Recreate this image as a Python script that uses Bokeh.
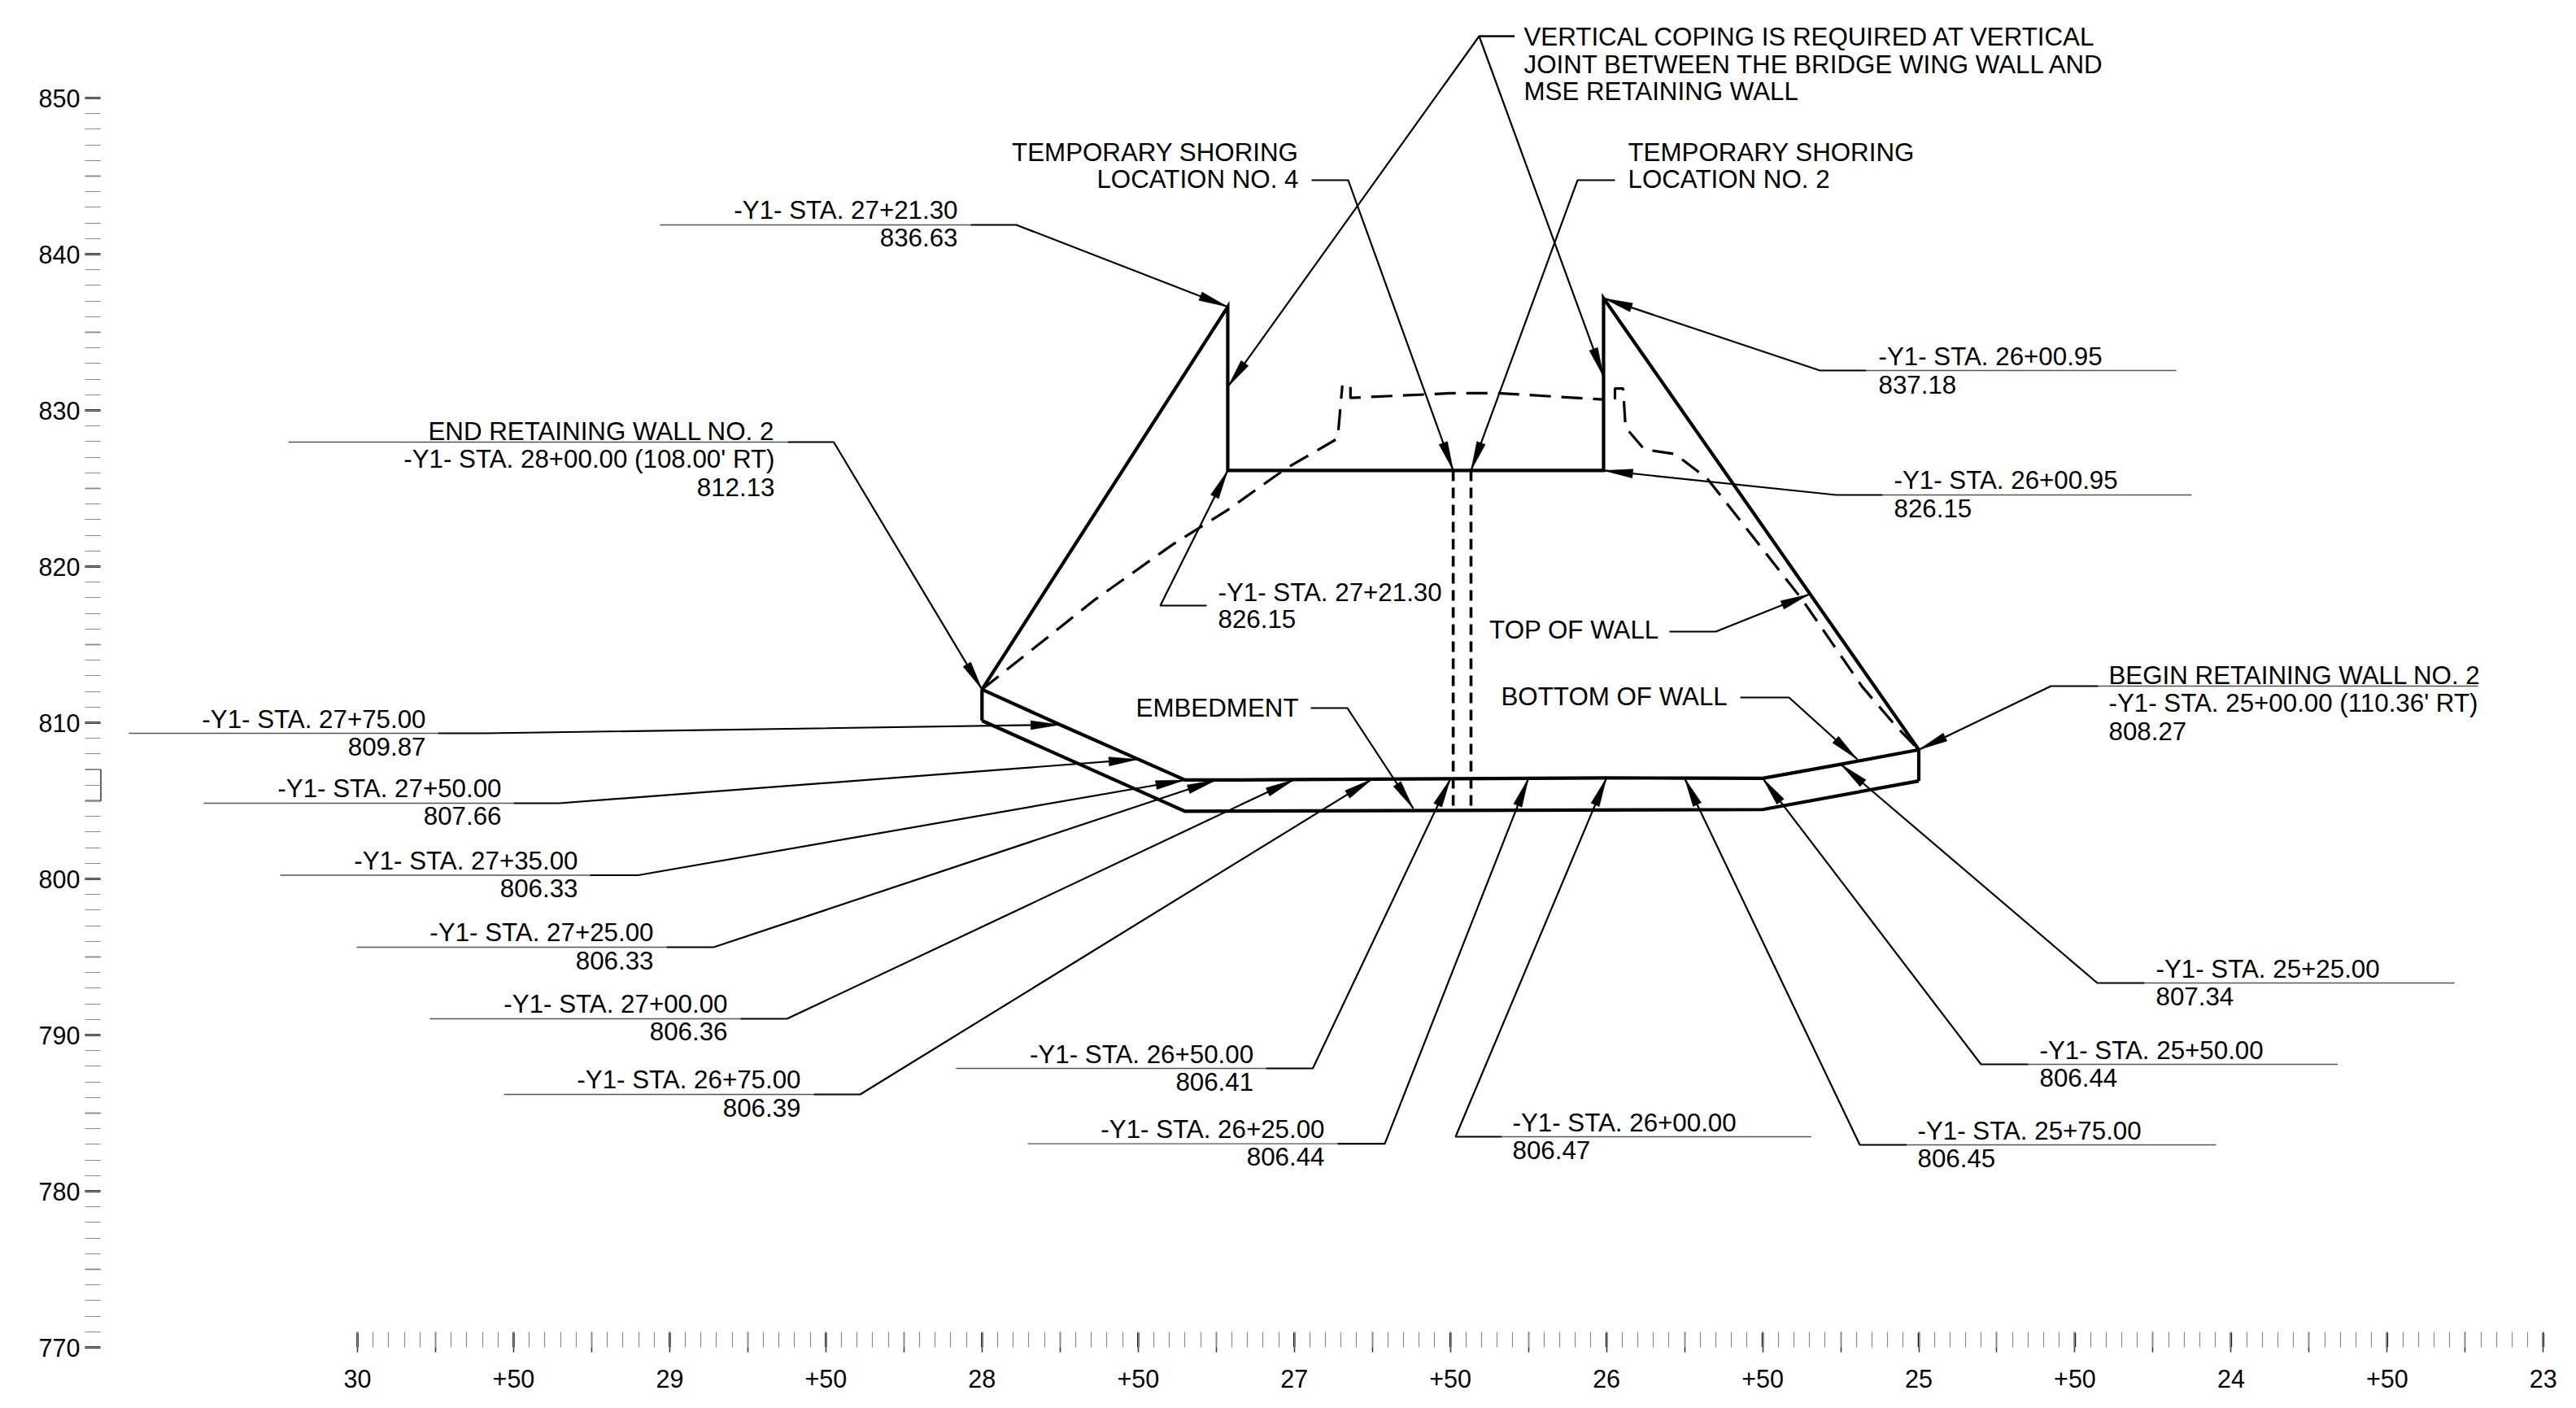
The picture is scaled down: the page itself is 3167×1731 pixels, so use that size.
from bokeh.plotting import figure
from bokeh.models import Range1d, FixedTicker
from bokeh.core.properties import value
from bokeh.embed import file_html
from bokeh.resources import INLINE
import math

# ---------- chart data (station in feet, elevation in feet) ----------
top_sta = [2500, 2525, 2550, 2575, 2600, 2625, 2650, 2675, 2700, 2725, 2735, 2750, 2775, 2800]
top_elev = [808.27, 807.34, 806.44, 806.45, 806.47, 806.44, 806.41, 806.39, 806.36, 806.33, 806.33, 807.66, 809.87, 812.13]
bottom_sta = [2500, 2550, 2735, 2800]
bottom_elev = [806.27, 804.44, 804.33, 810.13]
wall_top_sta = [2800, 2721.30, 2721.30, 2600.95, 2600.95, 2500]
wall_top_elev = [812.13, 836.63, 826.15, 826.15, 837.18, 808.27]
shoring_sta = [2649.1, 2643.4]
shoring_top = 826.15
shoring_bottom = 804.5
ground_a_sta = [2800, 2763.7, 2739, 2721.5, 2702.5, 2686.1, 2684.6]
ground_a_elev = [812.13, 817.9, 821.4, 823.6, 826.3, 828.2, 831.6]
ground_b_sta = [2682, 2682, 2649.4, 2634.8, 2601.2]
ground_b_elev = [831.5, 830.8, 831.1, 831.1, 830.7]
ground_c_sta = [2597.3, 2597.3, 2594.7, 2593.9, 2587.9, 2578, 2567.6, 2537.4, 2518.1, 2507.4, 2500]
ground_c_elev = [830.7, 831.4, 831.4, 828.9, 827.5, 827.2, 825.6, 817.9, 812.3, 809.8, 808.27]

y_major = list(range(770, 851, 10))
y_mid = list(range(775, 850, 10))
y_minor = list(range(770, 851, 1))
x_major = list(range(2300, 3001, 25))
x_label_ticks = list(range(2300, 3001, 50))
x_minor = list(range(2300, 3001, 5))
x_labels = {2300: "23", 2350: "+50", 2400: "24", 2450: "+50", 2500: "25", 2550: "+50", 2600: "26",
            2650: "+50", 2700: "27", 2750: "+50", 2800: "28", 2850: "+50", 2900: "29", 2950: "+50", 3000: "30"}

# ---------- scale of the page ----------
PX_FT, PX_EL = 3.839, 19.2
X30, Y850 = 439.0, 120.0
FIG_W, FIG_H = 3160, 1724
LEFT, BOTTOM = 104, 1656
TEXT_DY = -12


def sta(X):
    return 3000 - (X - X30) / PX_FT


def el(Y):
    return 850 - (Y - Y850) / PX_EL


def to_px(s, e):
    return X30 + (3000 - s) * PX_FT, Y850 + (850 - e) * PX_EL


# ---------- callouts: text lines, align, text x, baselines, shelf, leader px path, arrow tips ----------
Y1 = "-Y1- STA. "
callouts = [
    ([Y1 + "27+21.30", "836.63"], "right", 1177, [270, 303], (811, 1193, 276), [(1193, 276), (1249, 276)], [(2721.30, 836.63)]),
    (["END RETAINING WALL NO. 2", Y1 + "28+00.00 (108.00' RT)", "812.13"], "right", 952, [542, 576, 610], (354, 968, 543), [(968, 543), (1024.5, 543)], [(2800, 812.13)]),
    ([Y1 + "27+75.00", "809.87"], "right", 523, [896, 929], (158, 538, 901), [(538, 901), (596, 901)], [(2775, 809.87)]),
    ([Y1 + "27+50.00", "807.66"], "right", 616, [981, 1014], (250, 631, 987), [(631, 987), (687, 987)], [(2750, 807.66)]),
    ([Y1 + "27+35.00", "806.33"], "right", 710, [1070, 1103], (344, 725, 1075.5), [(725, 1075.5), (784, 1075.5)], [(2735, 806.33)]),
    ([Y1 + "27+25.00", "806.33"], "right", 803, [1158, 1192], (438, 819, 1164), [(819, 1164), (877, 1164)], [(2725, 806.33)]),
    ([Y1 + "27+00.00", "806.36"], "right", 894, [1246, 1279], (528, 910, 1252), [(910, 1252), (967, 1252)], [(2700, 806.36)]),
    ([Y1 + "26+75.00", "806.39"], "right", 984, [1339, 1373], (619, 1000, 1345), [(1000, 1345), (1057, 1345)], [(2675, 806.39)]),
    ([Y1 + "26+50.00", "806.41"], "right", 1540.6, [1308, 1341], (1175, 1556, 1313), [(1556, 1313), (1613.5, 1313)], [(2650, 806.41)]),
    ([Y1 + "26+25.00", "806.44"], "right", 1628, [1400, 1433], (1263, 1644, 1405.6), [(1644, 1405.6), (1702, 1405.6)], [(2625, 806.44)]),
    ([Y1 + "26+00.00", "806.47"], "left", 1859, [1392, 1425], (1846, 2226.5, 1397), [(1846, 1397), (1789, 1397)], [(2600, 806.47)]),
    ([Y1 + "25+75.00", "806.45"], "left", 2357, [1402, 1435], (2343.5, 2724, 1407), [(2343.5, 1407), (2286, 1407)], [(2575, 806.45)]),
    ([Y1 + "25+50.00", "806.44"], "left", 2507, [1303, 1336], (2493, 2873.5, 1308), [(2493, 1308), (2435, 1308)], [(2550, 806.44)]),
    ([Y1 + "25+25.00", "807.34"], "left", 2650, [1203, 1236], (2636, 3017, 1208), [(2636, 1208), (2578, 1208)], [(2525, 807.34)]),
    (["BEGIN RETAINING WALL NO. 2", Y1 + "25+00.00 (110.36' RT)", "808.27"], "left", 2592, [842, 876, 910], (2579, 3046, 843), [(2579, 843), (2521, 843)], [(2500, 808.27)]),
    ([Y1 + "26+00.95", "837.18"], "left", 2309, [450, 484], (2294, 2675, 455), [(2294, 455), (2237, 455)], [(2600.95, 837.18)]),
    ([Y1 + "26+00.95", "826.15"], "left", 2328, [602, 636], (2314, 2694, 608), [(2314, 608), (2257, 608)], [(2600.95, 826.15)]),
    ([Y1 + "27+21.30", "826.15"], "left", 1497, [739.5, 772], None, [(1483, 744), (1426, 744)], [(2721.30, 826.15)]),
    (["TEMPORARY SHORING", "LOCATION NO. 4"], "right", 1596, [198.6, 232], None, [(1612, 221), (1657, 221)], [(2649.1, 826.15)]),
    (["TEMPORARY SHORING", "LOCATION NO. 2"], "left", 2001, [198.6, 232], None, [(1985, 221), (1939, 221)], [(2643.4, 826.15)]),
    (["VERTICAL COPING IS REQUIRED AT VERTICAL", "JOINT BETWEEN THE BRIDGE WING WALL AND", "MSE RETAINING WALL"], "left", 1873, [56.5, 90.5, 124], None,
     [(1861.5, 44), (1818, 44)], [(2721.30, 831.5), (2600.95, 832.16)]),
    (["TOP OF WALL"], "left", 1830.6, [786], None, [(2052, 776), (2109, 776)], [(2535, 818.23)]),
    (["BOTTOM OF WALL"], "left", 1845, [868], None, [(2139, 857), (2199, 857)], [(2519.7, 807.66)]),
    (["EMBEDMENT"], "right", 1596, [882], None, [(1611, 870), (1656, 870)], [(2661.9, 804.51)]),
]

FONT = value("Liberation Sans")
TXT = value("31.3px")

p = figure(width=FIG_W, height=FIG_H, output_backend="svg", toolbar_location=None,
           x_range=Range1d(sta(LEFT), sta(FIG_W)), y_range=Range1d(el(BOTTOM), el(0)),
           min_border_left=LEFT, min_border_right=0, min_border_top=0, min_border_bottom=FIG_H - BOTTOM)
p.outline_line_color = None
p.grid.visible = False
p.background_fill_color = "white"

# axes
ya = p.yaxis[0]
ya.ticker = FixedTicker(ticks=y_major, minor_ticks=y_minor)
ya.axis_line_color = None
ya.major_tick_in, ya.major_tick_out = 19, 0
ya.minor_tick_in, ya.minor_tick_out = 19, 0
ya.major_tick_line_color, ya.major_tick_line_width = "black", 2.5
ya.minor_tick_line_color, ya.minor_tick_line_width = "#8c8c8c", 1.2
ya.major_label_text_font = "Liberation Sans"
ya.major_label_text_font_size = "30.5px"
ya.major_label_text_color = "black"
ya.major_label_standoff = 6

xa = p.xaxis[0]
xa.ticker = FixedTicker(ticks=x_major, minor_ticks=x_minor)
xa.major_label_overrides = {t: x_labels.get(t, "") for t in x_major}
xa.axis_line_color = None
xa.major_tick_in, xa.major_tick_out = 19, 6
xa.minor_tick_in, xa.minor_tick_out = 19, 0
xa.major_tick_line_color, xa.major_tick_line_width = "#333333", 1.5
xa.minor_tick_line_color, xa.minor_tick_line_width = "#8c8c8c", 1.2
xa.major_label_text_font = "Liberation Sans"
xa.major_label_text_font_size = "30.5px"
xa.major_label_text_color = "black"
xa.major_label_standoff = 21

# heavier tier of ticks on both axes
p.segment(x0=[sta(104)] * len(y_mid), x1=[sta(123)] * len(y_mid), y0=y_mid, y1=y_mid,
          line_color="#333333", line_width=1.6)
p.segment(x0=x_label_ticks, x1=x_label_ticks, y0=[el(1638)] * len(x_label_ticks), y1=[770] * len(x_label_ticks),
          line_color="black", line_width=2.5)
p.line([sta(104), sta(123.5), sta(123.5), sta(104)], [807, 807, 805, 805], line_color="#222222", line_width=1.4)

# wall
WALL = 4.2
p.line(top_sta, top_elev, line_color="black", line_width=WALL, line_join="miter")
p.line(bottom_sta, bottom_elev, line_color="black", line_width=WALL, line_join="miter")
p.line(wall_top_sta, wall_top_elev, line_color="black", line_width=WALL, line_join="miter")
p.segment([2800, 2500], [812.13, 808.27], [2800, 2500], [810.13, 806.27], line_color="black", line_width=WALL)

# shoring and ground
for s in shoring_sta:
    p.line([s, s], [shoring_top, shoring_bottom], line_color="black", line_width=3.6, line_dash="13 8")
for a, b in ((ground_a_sta, ground_a_elev), (ground_b_sta, ground_b_elev), (ground_c_sta, ground_c_elev)):
    p.line(a, b, line_color="black", line_width=3.2, line_dash="26 13")

# leaders, arrowheads, shelves, texts
HEAD_LEN, HEAD_HALF = 36, 5.5
hx, hy = [], []
for lines, align, tx, bases, shelf, path, tips in callouts:
    if shelf:
        p.line([sta(shelf[0]), sta(shelf[1])], [el(shelf[2]), el(shelf[2])], line_color="#555555", line_width=1.4)
    for tip in tips:
        X, Y = to_px(*tip)
        xs = [sta(a) for a, _ in path] + [tip[0]]
        ys = [el(b) for _, b in path] + [tip[1]]
        p.line(xs, ys, line_color="black", line_width=2.2)
        dx, dy = path[-1][0] - X, path[-1][1] - Y
        n = math.hypot(dx, dy)
        ux, uy = dx / n, dy / n
        bx, by = X + ux * HEAD_LEN, Y + uy * HEAD_LEN
        hx.append([tip[0], sta(bx - uy * HEAD_HALF), sta(bx + uy * HEAD_HALF)])
        hy.append([tip[1], el(by + ux * HEAD_HALF), el(by - ux * HEAD_HALF)])
    p.text(x=[sta(tx)] * len(lines), y=[el(b + TEXT_DY) for b in bases], text=lines, text_align=align,
           text_baseline="alphabetic", text_font=FONT, text_font_size=TXT, text_color="black")
p.patches(hx, hy, fill_color="black", line_color="black", line_width=0.5)

open("out.html", "w").write(file_html(p, INLINE))
